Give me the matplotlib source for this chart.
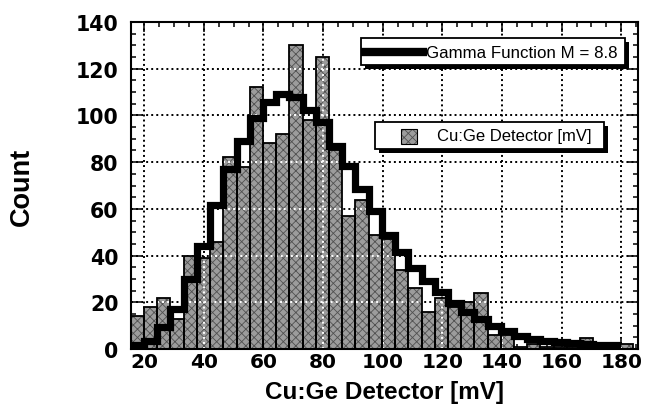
import numpy as np
import matplotlib
matplotlib.use('Agg')
import matplotlib.pyplot as plt
from matplotlib.patches import Rectangle

# ---------------- data ----------------
bin_start = 15.55
bin_width = 4.43
counts = [14, 18, 22, 13, 40, 39, 46, 82, 78, 112, 88, 92, 130, 98, 125, 85,
          57, 64, 49, 47, 34, 26, 16, 22, 18, 20, 24, 6, 6, 1, 2, 1, 1, 1,
          4.5, 1, 1, 2]
gamma_fit = [1.5, 3.6, 9.3, 17, 30, 44.3, 61.5, 77, 89, 99, 105.7, 109, 108,
             102.5, 97, 87, 78.4, 68.6, 59, 49, 41.4, 34.5, 29, 24.5, 19.5,
             16, 13, 10, 7.5, 5.5, 4.3, 3.5, 3.0, 2.5, 2.2, 1.8, 1.5]
x_ticks = [20, 40, 60, 80, 100, 120, 140, 160, 180]
x_ticklabels = ['20', '40', '60', '80', '100', '120', '140', '160', '180']
y_ticks = [0, 20, 40, 60, 80, 100, 120, 140]
y_ticklabels = ['0', '20', '40', '60', '80', '100', '120', '140']
gamma_label = 'Gamma Function M = 8.8'
hist_label = 'Cu:Ge Detector [mV]'
x_label = 'Cu:Ge Detector [mV]'
y_label = 'Count'

# ---------------- figure ----------------
plt.rcParams['font.family'] = ['Liberation Sans', 'DejaVu Sans']
plt.rcParams['hatch.linewidth'] = 0.6

W, H = 647, 410
fig = plt.figure(figsize=(W / 100, H / 100), dpi=100)
ax_l, ax_r, ax_t, ax_b = 131, 638, 23, 350
ax = fig.add_axes([ax_l / W, 1 - ax_b / H, (ax_r - ax_l) / W, (ax_b - ax_t) / H])

counts_a = np.asarray(counts, dtype=float)
edges = bin_start + bin_width * np.arange(len(counts_a) + 1)

ax.set_xlim(15.6, 185.6)
ax.set_ylim(0, 140)

# grid (black dotted, behind the bars)
dot = (0, (1, 1.6))
for gx in x_ticks:
    ax.axvline(gx, color='black', lw=1.4, ls=dot, zorder=0.5)
for gy in y_ticks[1:]:
    ax.axhline(gy, color='black', lw=1.4, ls=dot, zorder=0.5)

# histogram bars: stippled fill + black outlines
ax.bar(edges[:-1], counts_a, width=bin_width, align='edge',
       facecolor='#9c9c9c', edgecolor='#505050', hatch='xxxx', lw=0, zorder=2)
ax.bar(edges[:-1], counts_a, width=bin_width, align='edge',
       fill=False, edgecolor='black', lw=1.3, zorder=3)

# grid lines show as white dots where they cross the bars
for gy in y_ticks[1:]:
    above = counts_a > gy + 1
    i = 0
    n = len(above)
    while i < n:
        if above[i]:
            j = i
            while j + 1 < n and above[j + 1]:
                j += 1
            ax.hlines(gy, edges[i], edges[j + 1], colors='white', lw=1.4,
                      linestyles=dot, zorder=2.6)
            i = j + 1
        else:
            i += 1
for gx in x_ticks:
    k = int(np.searchsorted(edges, gx) - 1)
    if 0 <= k < len(counts_a) and counts_a[k] > 1:
        ax.vlines(gx, 0, counts_a[k] - 0.8, colors='white', lw=1.4,
                  linestyles=dot, zorder=2.6)

# gamma-function step line
g = np.asarray(gamma_fit, dtype=float)
gx_edges = edges[:len(g) + 1]
ax.plot(gx_edges, np.append(g, g[-1]), drawstyle='steps-post', color='black',
        lw=5.2, solid_joinstyle='miter', solid_capstyle='butt', zorder=4)

# ticks
ax.set_xticks(x_ticks)
ax.set_xticklabels(x_ticklabels)
ax.set_yticks(y_ticks)
ax.set_yticklabels(y_ticklabels)
ax.set_xticks(np.arange(20, 186, 5), minor=True)
ax.set_yticks(np.arange(0, 141, 5), minor=True)
ax.tick_params(which='both', direction='in', top=True, right=True,
               color='black', width=1.1)
ax.tick_params(which='major', length=7)
ax.tick_params(which='minor', length=3.5)
ax.tick_params(axis='x', which='major', pad=2.5, labelsize=14.5)
ax.tick_params(axis='y', which='major', pad=9, labelsize=14.8)
for lab in ax.get_xticklabels() + ax.get_yticklabels():
    lab.set_fontweight('bold')
    lab.set_family(['DejaVu Sans'])

for sp in ax.spines.values():
    sp.set_linewidth(1.5)
    sp.set_zorder(5)

ax.set_xlabel(x_label, fontsize=17.5, fontweight='bold')
ax.xaxis.label.set_va('baseline')
ax.xaxis.set_label_coords(0.5, (ax_b - 399) / (ax_b - ax_t))
ax.set_ylabel(y_label, fontsize=19.5, fontweight='bold')
ax.yaxis.label.set_va('center')
ax.yaxis.set_label_coords((22 - ax_l) / (ax_r - ax_l), 0.5)

# ---------------- legend boxes (with drop shadow) ----------------
def px2ax(px, py):
    return (px - ax_l) / (ax_r - ax_l), (ax_b - py) / (ax_b - ax_t)

def shadow_box(x0p, y0p, x1p, y1p):
    x0, y1 = px2ax(x0p, y0p)
    x1, y0 = px2ax(x1p, y1p)
    dx = 4 / (ax_r - ax_l)
    dy = 4 / (ax_b - ax_t)
    ax.add_patch(Rectangle((x0 + dx, y0 - dy), x1 - x0, y1 - y0,
                           transform=ax.transAxes, facecolor='black',
                           edgecolor='black', lw=0, zorder=8, clip_on=False))
    ax.add_patch(Rectangle((x0, y0), x1 - x0, y1 - y0,
                           transform=ax.transAxes, facecolor='white',
                           edgecolor='black', lw=1.3, zorder=9, clip_on=False))

# box 1: gamma function
shadow_box(361, 39, 625, 66)
lx0, ly = px2ax(361, 53)
lx1, _ = px2ax(427, 53)
ax.plot([lx0, lx1], [ly, ly], transform=ax.transAxes, color='black', lw=6,
        solid_capstyle='butt', zorder=10, clip_on=False)
tx, _ = px2ax(426, 53)
ax.text(tx, ly, gamma_label, transform=ax.transAxes, fontsize=12.2,
        va='center', ha='left', zorder=11)

# box 2: histogram
shadow_box(375, 123, 604, 150)
px0, py0 = px2ax(401, 145)
px1, py1 = px2ax(417, 130)
ax.add_patch(Rectangle((px0, py0), px1 - px0, py1 - py0, transform=ax.transAxes,
                       facecolor='#9c9c9c', edgecolor='#505050', hatch='xxxx',
                       lw=0, zorder=10, clip_on=False))
ax.add_patch(Rectangle((px0, py0), px1 - px0, py1 - py0, transform=ax.transAxes,
                       fill=False, edgecolor='black', lw=0.8, zorder=10,
                       clip_on=False))
tx2, ty2 = px2ax(437, 137)
ax.text(tx2, ty2, hist_label, transform=ax.transAxes, fontsize=12.0,
        va='center', ha='left', zorder=11)

fig.savefig('out.png', dpi=100)
